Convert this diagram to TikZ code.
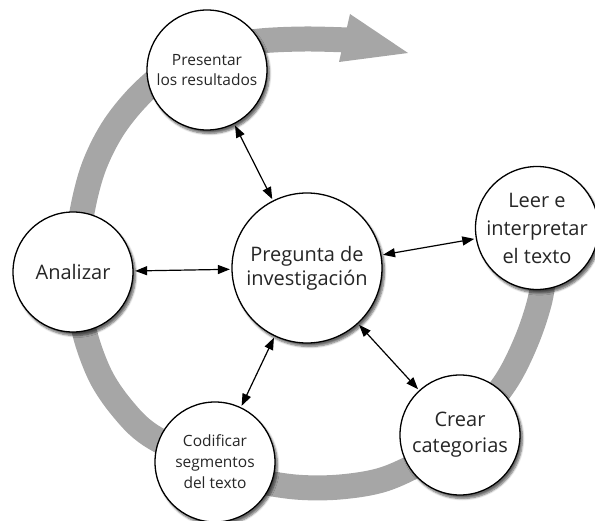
\documentclass[tikz,border=0pt]{standalone}
\usepackage{fontspec}
\setmainfont{Open Sans}
\usepackage{xcolor}
\usepackage{tikz}
\usetikzlibrary{arrows.meta,shadows.blur}
\definecolor{ring}{HTML}{A6A6A6}
\definecolor{ink}{HTML}{262626}
\tikzset{
  stageCircle/.style={circle, draw=black, line width=1.3pt, fill=white, inner sep=0pt,
    blur shadow={shadow xshift=2.5pt, shadow yshift=-3.5pt, shadow blur steps=6, shadow opacity=60}},
  bigLabel/.style={text=ink, align=center, font=\fontsize{20}{24}\selectfont},
  smallLabel/.style={text=ink, align=center, font=\fontsize{15.5}{20}\selectfont},
  linkArrow/.style={{Triangle[length=12pt,width=9pt]}-{Triangle[length=12pt,width=9pt]},
    draw=black, line width=1.2pt, shorten <=1.5pt, shorten >=1.5pt},
  cycleBand/.style={draw=ring, line width=25pt, line cap=butt}
}

\begin{document}
\begin{tikzpicture}[x=1pt,y=-1pt]
  \useasboundingbox (0,0) rectangle (595,521);

  % gray cycle behind the stages
  \draw[cycleBand] plot[smooth, tension=0.55] coordinates {
    (546,232) (545,262) (540,300) (526,342) (505,383) (470,425) (430,457)
    (385,479) (340,487) (295,487) (250,479) (205,463) (150,435) (122,408)
    (100,375) (84,330) (78,280) (80,225) (92,172) (112,130) (140,95)
    (175,66) (215,48) (260,41) (305,39) (348,40)};
  \fill[ring] (350,14) -- (408,53) -- (339,62) -- cycle;

  \node[stageCircle, bigLabel, minimum size=150pt] (question) at (307,268) {Pregunta de\\investigación};
  \node[stageCircle, smallLabel, minimum size=120pt] (present) at (207,70) {Presentar\\los resultados};
  \node[stageCircle, bigLabel, minimum size=120pt] (analyze) at (73,272) {Analizar};
  \node[stageCircle, bigLabel, font=\fontsize{20}{28}\selectfont, minimum size=118pt] (read) at (537,228) {Leer e\\interpretar\\el texto};
  \node[stageCircle, bigLabel, font=\fontsize{20}{26}\selectfont, minimum size=120pt] (categories) at (460,435) {Crear\\categorias};
  \node[stageCircle, smallLabel, font=\fontsize{15.5}{21}\selectfont, minimum size=120pt] (code) at (215,462) {Codificar\\segmentos\\del texto};

  \draw[linkArrow] (present) -- (question);
  \draw[linkArrow] (analyze) -- (question);
  \draw[linkArrow] (question) -- (read);
  \draw[linkArrow] (question) -- (categories);
  \draw[linkArrow] (question) -- (code);
\end{tikzpicture}
\end{document}
